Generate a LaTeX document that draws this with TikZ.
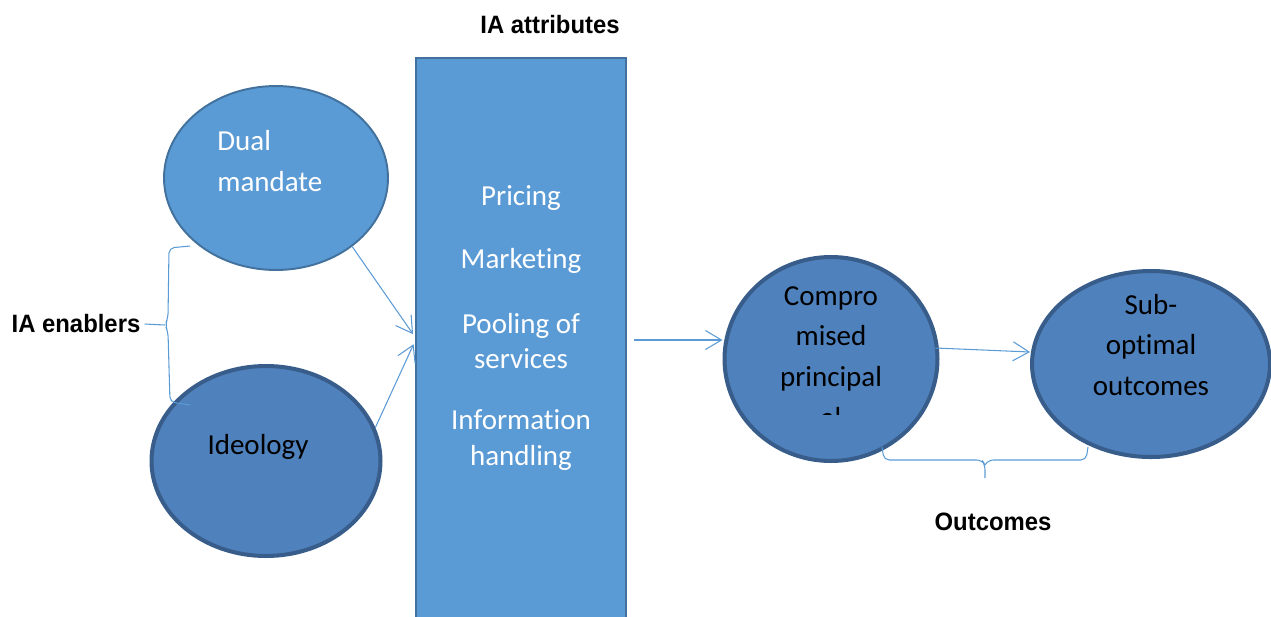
\documentclass[tikz,border=0pt]{standalone}
\usepackage{fontspec}
\setmainfont{Carlito}[Ligatures=NoCommon]
\newfontfamily\headfont[FakeStretch=0.95]{Liberation Sans}
\usetikzlibrary{shapes.geometric}
\usetikzlibrary{arrows.meta}
\definecolor{boxblue}{RGB}{91,155,213}
\definecolor{boxline}{RGB}{65,113,156}
\definecolor{darkblue}{RGB}{79,129,189}
\definecolor{darkline}{RGB}{56,93,138}

\begin{document}
\begin{tikzpicture}[x=0.02cm, y=-0.02cm,
    lightoval/.style={ellipse, fill=boxblue, draw=boxline, line width=1.1pt, inner sep=0pt},
    darkoval/.style={ellipse, fill=darkblue, draw=darkline, line width=2.3pt, inner sep=0pt},
    txt/.style={font=\fontsize{16.5}{23.2}\selectfont, align=center, inner sep=0pt},
    head/.style={font=\headfont\bfseries\fontsize{14.3}{16}\selectfont, inner sep=0pt},
    conn/.style={draw=boxblue, line width=0.6pt, rounded corners=3pt},
    arr/.style={conn, -{Straight Barb[length=3.2mm, width=3.8mm]}}]

    \useasboundingbox (0,0) rectangle (1271,616);

    % enablers
    \node[lightoval, minimum width=4.48cm, minimum height=3.68cm] (dual) at (276,178) {};
    \node[darkoval, minimum width=4.58cm, minimum height=3.8cm] (ideo) at (266,461) {};
    \node[txt, white, align=left, anchor=west] (dualtxt) at (217,161) {Dual\\mandate};
    \node[txt] (ideotxt) at (258,447) {Ideology};

    % attributes column
    \node[rectangle, fill=boxblue, draw=boxline, line width=1.1pt,
          minimum width=4.2cm, minimum height=11.4cm] (attr) at (521,343) {};
    \foreach \n/\t/\y in {pr/Pricing/198, mk/Marketing/261,
                          po/{Pooling of\\services}/341, ih/{Information\\handling}/440}{
        \node[txt, white, font=\fontsize{16.5}{20}\selectfont] (\n) at (521,\y) {\t};
    }

    % outcomes
    \node[darkoval, minimum width=4.26cm, minimum height=4.08cm] (comp) at (831,359) {};
    \node[darkoval, minimum width=4.76cm, minimum height=3.72cm] (sub) at (1151,364) {};
    \begin{scope}
        \clip (720,250) rectangle (945,414);
        \node[txt] (comptxt) at (831,357) {Compro\\mised\\principal\\al};
    \end{scope}
    \node[txt] (subtxt) at (1151,345) {Sub-\\optimal\\outcomes};

    % headings
    \node[head] (attrhead) at (550,25) {IA attributes};
    \node[head] (enab) at (76,324) {IA enablers};
    \node[head] (outc) at (993,522) {Outcomes};

    % arrows
    \draw[arr, shorten >=2pt] (dual.-42) -- ([shift={(0,-6)}]attr.west);
    \draw[arr, shorten >=2pt] (ideo.17) -- ([shift={(0,-2)}]attr.west);
    \draw[arr, shorten <=4pt] ([shift={(0,-3)}]attr.east) -- ([shift={(0,-3)}]attr.east -| comp.west);
    \draw[arr] ([shift={(-4,-11)}]comp.east) -- ([shift={(0,-12)}]sub.west);

    % braces
    \coordinate (lb) at (165,325);
    \draw[conn] (190,246) -- (169,248) -- (168,318) -- (lb) -- (168,332) -- (170,402) -- (190,405);
    \draw[conn] (enab.east) ++(4,0) -- (lb);
    \coordinate (bb) at (985,478);
    \draw[conn] (882,447) -- (884,460) -- (982,460) -- (985,465) -- (bb);
    \draw[conn] (985,465) -- (988,460) -- (1086,460) -- (1088,447);

\end{tikzpicture}
\end{document}
